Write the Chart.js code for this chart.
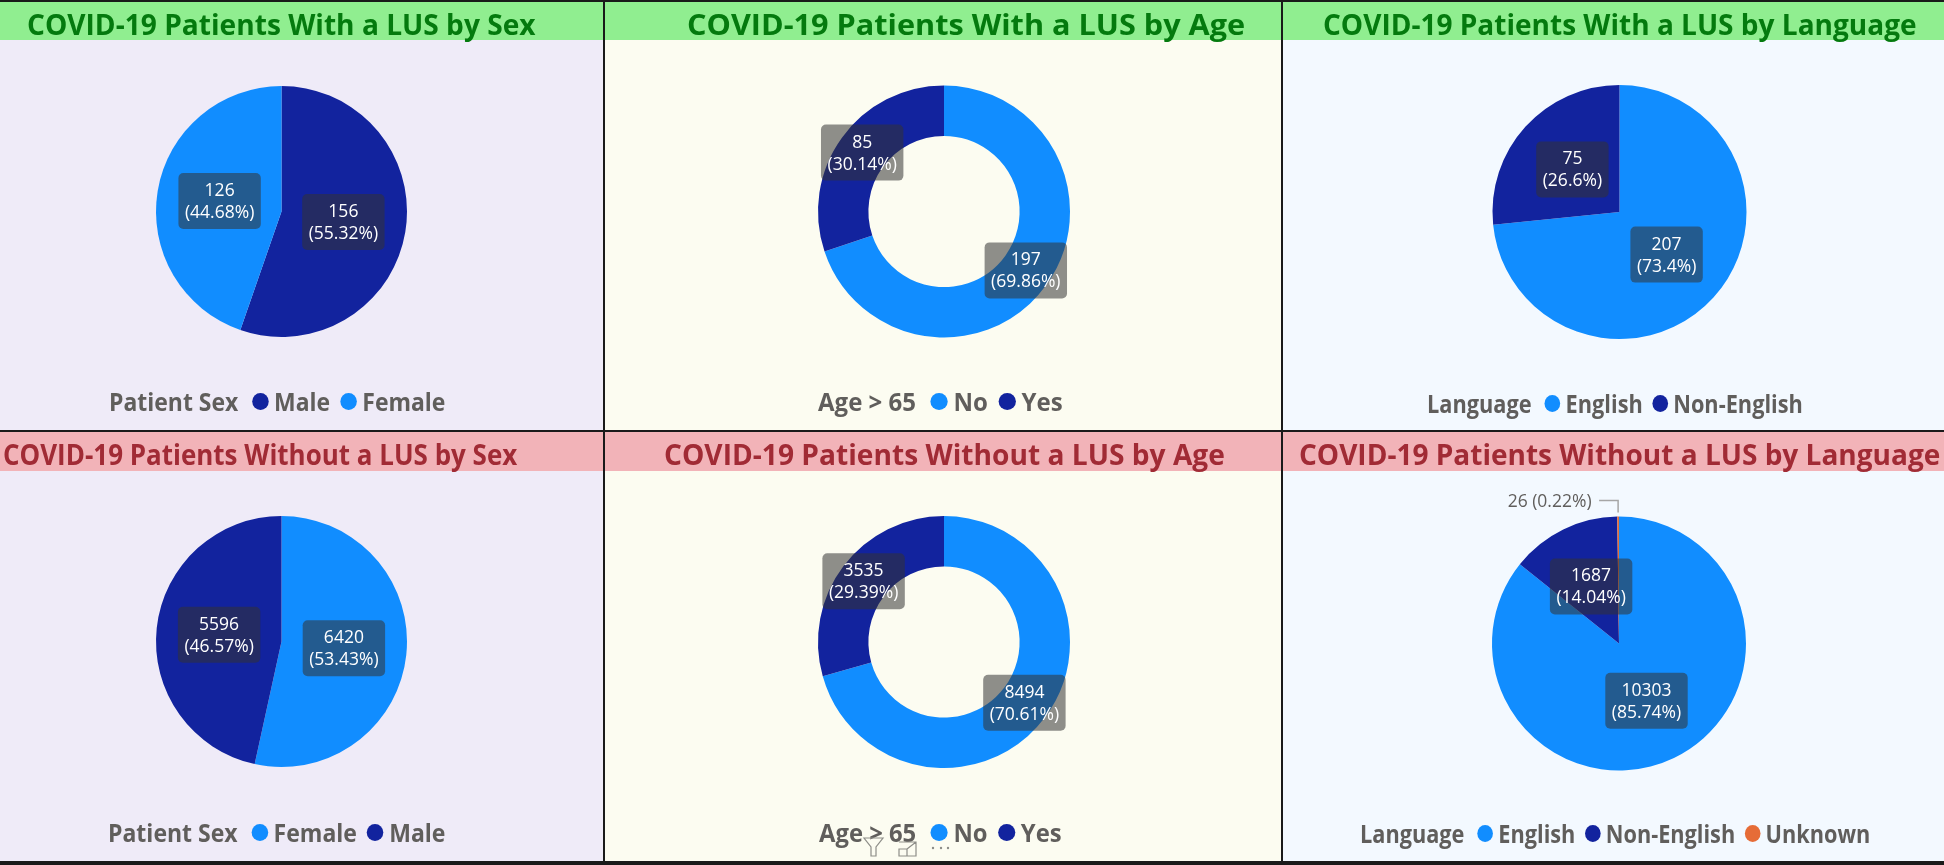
<!DOCTYPE html>
<html><head><meta charset="utf-8">
<script src="https://cdn.jsdelivr.net/npm/chart.js@4"></script>
<style>
html,body{margin:0;padding:0;width:1944px;height:865px;overflow:hidden;background:#1a1a1a;font-family:"Open Sans",sans-serif}
#stage{position:absolute;left:0;top:0;width:1944px;height:865px}
.panel{position:absolute;overflow:hidden}
.band{position:absolute;left:0;right:0;top:0}
.panel canvas{position:absolute;left:0;top:0}
.title{position:absolute;white-space:nowrap;font-weight:700;font-size:28.5px;transform-origin:left center}
.legend{position:absolute;white-space:nowrap;display:flex;align-items:center;font-weight:700;font-size:25px;color:#605e5c;height:32px;transform-origin:left center}
.legend i{display:inline-block;width:18px;height:17px;border-radius:50%;margin:0 6px 0 15px}
.legend i.next{margin-left:11px}
#chrome{position:absolute;left:860px;top:835px;width:100px;height:28px}
</style></head><body><div id="stage"></div>
<script>
const BLUE='#118dff', NAVY='#12239e', ORANGE='#e66c37';

const titles=['COVID-19 Patients With a LUS by Sex','COVID-19 Patients With a LUS by Age','COVID-19 Patients With a LUS by Language',
              'COVID-19 Patients Without a LUS by Sex','COVID-19 Patients Without a LUS by Age','COVID-19 Patients Without a LUS by Language'];
const legendTitles=['Patient Sex','Age > 65','Language','Patient Sex','Age > 65','Language'];

const sexWithCats=['Male','Female'];           const sexWithVals=[156,126];
const ageWithCats=['No','Yes'];                const ageWithVals=[197,85];
const langWithCats=['English','Non-English'];  const langWithVals=[207,75];
const sexNoCats=['Female','Male'];             const sexNoVals=[6420,5596];
const ageNoCats=['No','Yes'];                  const ageNoVals=[8494,3535];
const langNoCats=['English','Non-English','Unknown']; const langNoVals=[10303,1687,26];

const seriesColors={Male:NAVY,Female:BLUE,No:BLUE,Yes:NAVY,English:BLUE,'Non-English':NAVY,Unknown:ORANGE};

/* layout only: panel box, band height, pie centre/radius (page px), title and legend extents */
const layouts=[
 {x:0,   y:2,  w:603, h:428,band:38,bg:'#efebf8',ok:1,cx:281.5,cy:211.5,r:125.5,t:[27,536],l:[109,445],ly:401,type:'pie'},
 {x:605, y:2,  w:676, h:428,band:38,bg:'#fcfcf1',ok:1,cx:944,  cy:211.5,r:126,  t:[687,1245],l:[818,1063],ly:401,type:'doughnut'},
 {x:1283,y:2,  w:661, h:428,band:38,bg:'#f3f9ff',ok:1,cx:1619.5,cy:212, r:127,  t:[1323,1917],l:[1427,1803],ly:403,type:'pie'},
 {x:0,   y:432,w:603, h:429,band:39,bg:'#efebf8',ok:0,cx:281.5,cy:641.5,r:125.5,t:[3,517],l:[108,445],ly:832,type:'pie'},
 {x:605, y:432,w:676, h:429,band:39,bg:'#fcfcf1',ok:0,cx:944,  cy:642,  r:126,  t:[664,1225],l:[819,1062],ly:832,type:'doughnut'},
 {x:1283,y:432,w:661, h:429,band:39,bg:'#f3f9ff',ok:0,cx:1619, cy:643.5,r:127,  t:[1299,1940],l:[1360,1870],ly:833,type:'pie'}
];
const cats=[sexWithCats,ageWithCats,langWithCats,sexNoCats,ageNoCats,langNoCats];
const vals=[sexWithVals,ageWithVals,langWithVals,sexNoVals,ageNoVals,langNoVals];

function pct(v,tot){return parseFloat((v/tot*100).toFixed(2))+'%';}
function rr(c,x,y,w,h,r){c.beginPath();c.roundRect(x,y,w,h,r);c.fill();}

const sliceLabels={id:'sliceLabels',afterDatasetsDraw(ch){
  const c=ch.ctx,ds=ch.data.datasets[0],meta=ch.getDatasetMeta(0);
  const tot=ds.data.reduce((a,b)=>a+b,0);
  c.save();c.textAlign='center';c.textBaseline='middle';
  c.font='17.5px "Open Sans", sans-serif';
  meta.data.forEach((arc,i)=>{
    const v=ds.data[i],p=pct(v,tot);
    if(v/tot<0.01){
      const ang=(arc.startAngle+arc.endAngle)/2;
      const px=arc.x+Math.cos(ang)*(arc.outerRadius+4), py=arc.y+Math.sin(ang)*(arc.outerRadius+4);
      c.strokeStyle='#a6a6a6';c.lineWidth=1.5;c.beginPath();
      c.moveTo(px,py);c.lineTo(px,py-12);c.lineTo(px-19,py-12);c.stroke();
      c.fillStyle='#605e5c';c.textAlign='right';
      c.fillText(v+' ('+p+')',px-26.5,py-10.5);
      c.textAlign='center';
      return;
    }
    const pos=arc.tooltipPosition();
    const l1=String(v),l2='('+p+')';
    const bw=Math.max(c.measureText(l1).width,c.measureText(l2).width)+13,bh=56;
    c.fillStyle='rgba(51,51,51,0.55)';
    rr(c,pos.x-bw/2,pos.y-bh/2,bw,bh,5);
    c.fillStyle='#ffffff';
    c.fillText(l1,pos.x,pos.y-10);
    c.fillText(l2,pos.x,pos.y+12);
  });
  c.restore();
}};

const stage=document.getElementById('stage');
layouts.forEach((L,k)=>{
  const p=document.createElement('div');p.className='panel';
  p.style.cssText=`left:${L.x}px;top:${L.y}px;width:${L.w}px;height:${L.h}px;background:${L.bg}`;
  const b=document.createElement('div');b.className='band';
  b.style.height=L.band+'px';b.style.background=L.ok?'#90ee90':'#f2b3b8';p.appendChild(b);
  const cv=document.createElement('canvas');cv.width=L.w;cv.height=L.h;
  cv.style.width=L.w+'px';cv.style.height=L.h+'px';p.appendChild(cv);
  const t=document.createElement('div');t.className='title';t.textContent=titles[k];
  t.style.color=L.ok?'#047a0e':'#a12b35';t.style.left=(L.t[0]-L.x)+'px';
  t.style.top='4px';t.style.lineHeight=(L.band-2)+'px';p.appendChild(t);
  stage.appendChild(p);

  const lg=document.createElement('div');lg.className='legend';
  const s=document.createElement('span');s.textContent=legendTitles[k];lg.appendChild(s);
  cats[k].forEach((n,i)=>{
    const m=document.createElement('i');if(i)m.className='next';m.style.background=seriesColors[n];lg.appendChild(m);
    const e=document.createElement('span');e.textContent=n;lg.appendChild(e);
  });
  lg.style.left=(L.l[0]-L.x)+'px';lg.style.top=(L.ly-L.y-16)+'px';p.appendChild(lg);

  new Chart(cv,{type:L.type,
    data:{labels:cats[k],datasets:[{data:vals[k],backgroundColor:cats[k].map(n=>seriesColors[n]),borderWidth:0}]},
    options:{responsive:false,animation:false,cutout:L.type==='doughnut'?'60%':0,
      layout:{padding:{left:L.cx-L.r-L.x,right:L.x+L.w-L.cx-L.r,top:L.cy-L.r-L.y,bottom:L.y+L.h-L.cy-L.r}},
      plugins:{legend:{display:false},tooltip:{enabled:false}}},
    plugins:[sliceLabels]});
});

function fit(){
  document.querySelectorAll('.panel').forEach((p,k)=>{
    const L=layouts[k];
    const t=p.querySelector('.title');t.style.transform=`scaleX(${(L.t[1]-L.t[0])/t.offsetWidth})`;
    const l=p.querySelector('.legend');l.style.transform=`scaleX(${(L.l[1]-L.l[0])/l.offsetWidth})`;
  });
}
fit();if(document.fonts&&document.fonts.ready)document.fonts.ready.then(fit);
</script>
<svg id="chrome" viewBox="0 0 100 28" fill="none" stroke="#8d8d88" stroke-width="1.2">
  <path d="M4 3H23L16 12V21H11V12Z"/>
  <path d="M39 7H56V21H39V14H47V21M47 14L56 7M51 7H56V11"/>
  <g fill="#8d8d88" stroke="none"><circle cx="73" cy="13" r="1.2"/><circle cx="81" cy="13" r="1.2"/><circle cx="88" cy="13" r="1.2"/></g>
</svg>
</body></html>
